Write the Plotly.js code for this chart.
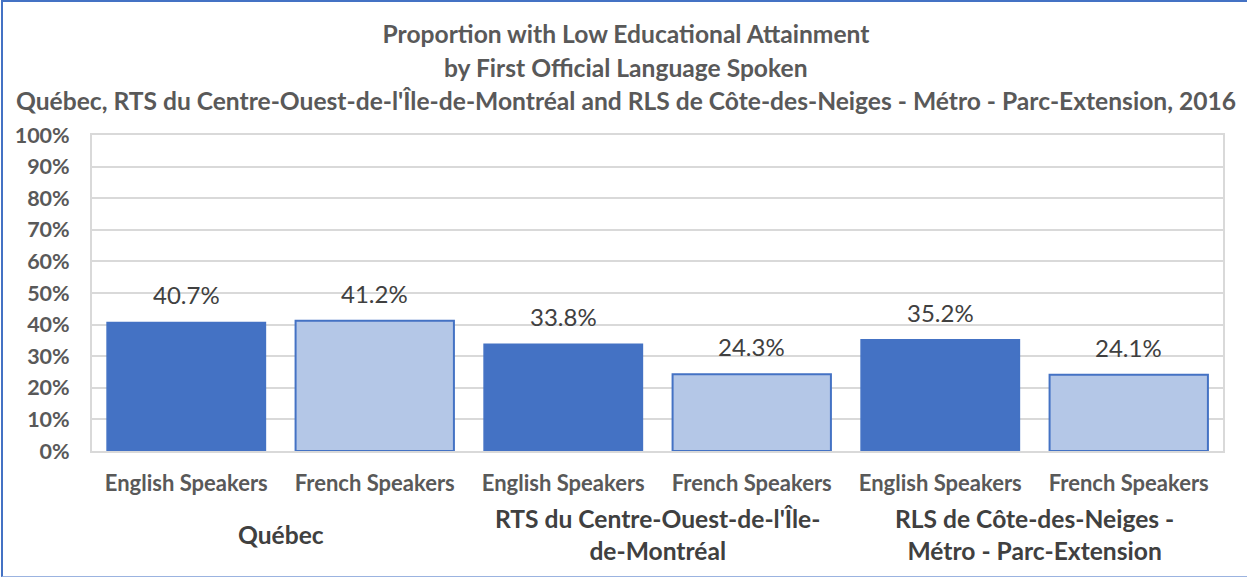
<!DOCTYPE html>
<html>
<head>
<meta charset="utf-8">
<script src="https://cdn.plot.ly/plotly-3.0.1.min.js"></script>
<style>
  html, body { margin: 0; padding: 0; background: #ffffff; overflow: hidden; }
  #wrap { position: relative; width: 1247px; height: 577px; overflow: hidden; }
  #chart { position: absolute; left: 0; top: 0; width: 1247px; height: 577px; }
  #frame { position: absolute; left: 1px; top: 0px; width: 1260px; height: 577px; box-sizing: border-box;
           border-left: 2px solid #4472C4; border-top: 2px solid #4472C4; border-bottom: 1px solid #9bb3e0; pointer-events: none; }
</style>
</head>
<body>
<div id="wrap">
  <div id="chart"></div>
  <div id="frame"></div>
</div>
<script>
// ---- data ----
const groups = ["Québec", "RTS du Centre-Ouest-de-l'Île-<br>de-Montréal", "RLS de Côte-des-Neiges -<br>Métro - Parc-Extension"];
const speakers = ["English Speakers", "French Speakers"];
const englishValues = [0.407, 0.338, 0.352];
const frenchValues = [0.412, 0.243, 0.241];
const titleLines = [
  "Proportion with Low Educational Attainment",
  "by First Official Language Spoken",
  "Québec, RTS du Centre-Ouest-de-l'Île-de-Montréal and RLS de Côte-des-Neiges - Métro - Parc-Extension, 2016"
];

// ---- build positions from data ----
const engX = groups.map((g, i) => i * 2);
const freX = groups.map((g, i) => i * 2 + 1);
const tickVals = [];
const tickText = [];
groups.forEach((g, i) => {
  speakers.forEach((s, j) => { tickVals.push(i * 2 + j); tickText.push(s); });
});

const FONT = "Lato, 'Open Sans', sans-serif";
const fmt = v => (v * 100).toFixed(1) + "%";
const TITLE_SIZE = 24.6;
const titleCenterPaper = (626 - 92) / 1131; // page-centred title lines

const traces = [
  {
    type: "bar", x: engX, y: englishValues, name: speakers[0],
    marker: { color: "#4472C4", line: { color: "#4472C4", width: 1.5 } },
    width: 0.84, hoverinfo: "skip"
  },
  {
    type: "bar", x: freX, y: frenchValues, name: speakers[1],
    marker: { color: "#B4C7E7", line: { color: "#4472C4", width: 2 } },
    width: 0.84, hoverinfo: "skip"
  }
];

const annotations = [];
// data labels
engX.forEach((x, i) => annotations.push({ x: x, y: englishValues[i], xref: "x", yref: "y", text: fmt(englishValues[i]),
  showarrow: false, yanchor: "bottom", yshift: 11, font: { family: FONT, size: 24, color: "#404040" } }));
freX.forEach((x, i) => annotations.push({ x: x, y: frenchValues[i], xref: "x", yref: "y", text: fmt(frenchValues[i]),
  showarrow: false, yanchor: "bottom", yshift: 11, font: { family: FONT, size: 24, color: "#404040" } }));
// group labels
groups.forEach((g, i) => annotations.push({ x: i * 2 + 0.5, y: 0, xref: "x", yref: "paper", text: g,
  showarrow: false, yanchor: "middle", yshift: -83, align: "center",
  font: { family: FONT, size: 24.6, color: "#404040", weight: "bold" } }));
// title lines 2 and 3 (plot top is at page y=135)
annotations.push({ x: titleCenterPaper, xref: "paper", y: 1, yref: "paper", yanchor: "middle", yshift: 135 - 67, text: titleLines[1],
  showarrow: false, font: { family: FONT, size: TITLE_SIZE, color: "#595959", weight: "bold" } });
annotations.push({ x: titleCenterPaper, xref: "paper", y: 1, yref: "paper", yanchor: "middle", yshift: 135 - 100, text: titleLines[2],
  showarrow: false, font: { family: FONT, size: TITLE_SIZE, color: "#595959", weight: "bold" } });

const layout = {
  width: 1247, height: 577,
  margin: { l: 92, r: 24, t: 135, b: 126 },
  paper_bgcolor: "#ffffff", plot_bgcolor: "#ffffff",
  showlegend: false,
  font: { family: FONT, color: "#595959" },
  title: { text: titleLines[0], x: titleCenterPaper, xref: "paper", xanchor: "center", y: 1 - 34 / 577, yref: "container", yanchor: "middle",
    font: { family: FONT, size: TITLE_SIZE, color: "#595959", weight: "bold" } },
  xaxis: {
    range: [-0.5, 5.5], tickmode: "array", tickvals: tickVals, ticktext: tickText,
    showgrid: false, zeroline: false, showline: true, linecolor: "#d9d9d9", linewidth: 2, mirror: true,
    ticks: "", ticklabelstandoff: 12,
    tickfont: { family: FONT, size: 22, color: "#595959", weight: "bold" }, fixedrange: true
  },
  yaxis: {
    range: [0, 1], dtick: 0.1, tick0: 0, tickformat: ".0%",
    showgrid: true, gridcolor: "#d9d9d9", gridwidth: 2,
    zeroline: false, showline: true, linecolor: "#d9d9d9", linewidth: 2, mirror: true,
    ticks: "", ticklabelstandoff: 16,
    tickfont: { family: FONT, size: 21.5, color: "#595959", weight: "bold" }, fixedrange: true
  },
  annotations: annotations
};

Plotly.newPlot("chart", traces, layout, { displayModeBar: false, staticPlot: true });
</script>
</body>
</html>
